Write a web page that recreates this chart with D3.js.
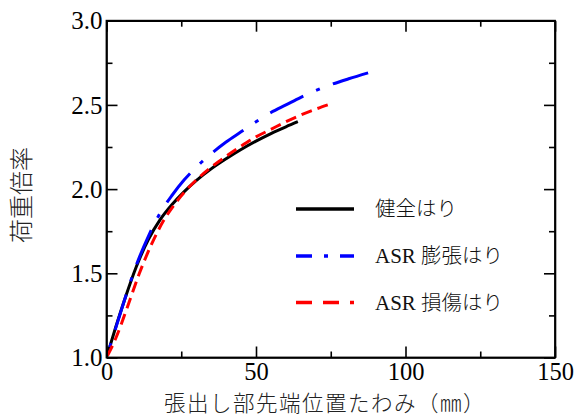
<!DOCTYPE html>
<html><head><meta charset="utf-8">
<script src="https://cdn.jsdelivr.net/npm/d3@7"></script>
<style>
html,body{margin:0;padding:0;background:#fff;}
svg{display:block;}
</style></head>
<body>
<script>
// ---- data ----
const xTicks = [0, 50, 100, 150];
const yTicks = [1.0, 1.5, 2.0, 2.5, 3.0];
const xMinor = [25, 75, 125];
const yMinor = [1.25, 1.75, 2.25, 2.75];

const seriesNames = ["健全はり", "ASR 膨張はり", "ASR 損傷はり"];

const healthyX = [0, 3, 6, 10, 14, 18, 22, 26, 30, 35, 40, 45, 50, 55, 60, 64];
const healthyY = [1.0, 1.175, 1.34, 1.54, 1.70, 1.82, 1.91, 1.985, 2.05, 2.12, 2.18, 2.235, 2.285, 2.33, 2.37, 2.40];

const expandX = [0, 3, 6, 10, 14, 18, 22, 26, 30, 35, 40, 45, 50, 55, 60, 65, 70, 75, 81, 87.5];
const expandY = [1.0, 1.17, 1.34, 1.55, 1.72, 1.86, 1.965, 2.055, 2.13, 2.21, 2.28, 2.34, 2.40, 2.455, 2.50, 2.545, 2.585, 2.62, 2.655, 2.69];

const damageX = [0, 3, 7, 11, 15, 19, 23, 27, 31, 35, 40, 45, 50, 55, 60, 65, 70, 74];
const damageY = [1.0, 1.11, 1.30, 1.50, 1.67, 1.81, 1.915, 2.00, 2.07, 2.13, 2.195, 2.255, 2.31, 2.355, 2.40, 2.44, 2.475, 2.50];

// ---- layout ----
const W = 578, H = 417;
const L = 106.5, R = 555, T = 20.7, B = 357.5;

const svg = d3.select("body").append("svg").attr("width", W).attr("height", H);

const x = d3.scaleLinear().domain([0, 150]).range([L, R]);
const y = d3.scaleLinear().domain([1.0, 3.0]).range([B, T]);

const serif = "'Liberation Serif','Times New Roman','Noto Sans CJK JP',serif";
const cjk = "'Noto Sans CJK JP','Liberation Serif',sans-serif";

svg.append("clipPath").attr("id", "clip").append("rect")
  .attr("x", L).attr("y", T).attr("width", R - L).attr("height", B - T);

const series = [
  {name: seriesNames[0], xs: healthyX, ys: healthyY, color: "#000000", dash: null, endOn: 0, legDash: null},
  {name: seriesNames[1], xs: expandX, ys: expandY, color: "#0000ff", dash: [37,14,4,14], endOn: 37, legDash: "16,12,4,12"},
  {name: seriesNames[2], xs: damageX, ys: damageY, color: "#ff0000", dash: [11,6], endOn: 11, legDash: "16,11"}
];

const line = d3.line().x(d => x(d[0])).y(d => y(d[1])).curve(d3.curveMonotoneX);

const g = svg.append("g").attr("clip-path", "url(#clip)");
series.forEach(s => {
  const pts = s.xs.map((v, i) => [v, s.ys[i]]);
  const p = g.append("path").datum(pts)
    .attr("d", line)
    .attr("fill", "none")
    .attr("stroke", s.color)
    .attr("stroke-width", 3)
    .attr("stroke-linecap", "butt");
  if (s.dash) {
    const cyc = d3.sum(s.dash);
    const len = p.node().getTotalLength();
    const off = (((s.endOn - len) % cyc) + cyc) % cyc;
    p.attr("stroke-dasharray", s.dash.join(",")).attr("stroke-dashoffset", off);
  }
});

// axes (ticks inward, mirrored)
const tickStyle = a => a.selectAll("path,line").attr("stroke", "#000").attr("stroke-width", 1.6);
function mkAxis(axisFn, scale, ticks, size, labels) {
  return axisFn(scale).tickValues(ticks).tickSizeInner(-size).tickSizeOuter(0)
    .tickFormat(labels ? d3.format(labels) : "");
}
const gb = svg.append("g").attr("transform", `translate(0,${B})`)
  .call(mkAxis(d3.axisBottom, x, xTicks, 11, "d"));
gb.call(tickStyle);
gb.selectAll("text").attr("font-family", serif).attr("font-size", 24.5).attr("fill", "#000")
  .attr("dy", null).attr("y", 22.5);
svg.append("g").attr("transform", `translate(0,${B})`)
  .call(mkAxis(d3.axisBottom, x, xMinor, 6, null)).call(tickStyle).select(".domain").remove();
svg.append("g").attr("transform", `translate(0,${T})`)
  .call(mkAxis(d3.axisTop, x, xTicks, 11, null)).call(tickStyle);
svg.append("g").attr("transform", `translate(0,${T})`)
  .call(mkAxis(d3.axisTop, x, xMinor, 6, null)).call(tickStyle).select(".domain").remove();
const gl = svg.append("g").attr("transform", `translate(${L},0)`)
  .call(mkAxis(d3.axisLeft, y, yTicks, 11, ".1f"));
gl.call(tickStyle);
gl.selectAll("text").attr("font-family", serif).attr("font-size", 25).attr("fill", "#000")
  .attr("x", -4).attr("dy", "0.33em");
svg.append("g").attr("transform", `translate(${L},0)`)
  .call(mkAxis(d3.axisLeft, y, yMinor, 6, null)).call(tickStyle).select(".domain").remove();
svg.append("g").attr("transform", `translate(${R},0)`)
  .call(mkAxis(d3.axisRight, y, yTicks, 11, null)).call(tickStyle);
svg.append("g").attr("transform", `translate(${R},0)`)
  .call(mkAxis(d3.axisRight, y, yMinor, 6, null)).call(tickStyle).select(".domain").remove();

svg.append("rect").attr("x", L).attr("y", T).attr("width", R - L).attr("height", B - T)
  .attr("fill", "none").attr("stroke", "#000").attr("stroke-width", 1.8);

// axis titles
svg.append("text").attr("x", 325).attr("y", 410.5).attr("text-anchor", "middle")
  .attr("font-family", cjk).attr("font-size", 21.5).attr("letter-spacing", 1.5)
  .attr("font-weight", 300).attr("fill", "#222")
  .text("張出し部先端位置たわみ（㎜）");
svg.append("text").attr("transform", "translate(30,195) rotate(-90)").attr("text-anchor", "middle")
  .attr("font-family", cjk).attr("font-size", 24).attr("font-weight", 300).attr("fill", "#222")
  .text("荷重倍率");

// legend
const legY = [209, 256, 302.5];
series.forEach((s, i) => {
  svg.append("line").attr("x1", 296).attr("x2", 354).attr("y1", legY[i]).attr("y2", legY[i])
    .attr("stroke", s.color).attr("stroke-width", 3.5).attr("stroke-dasharray", s.legDash);
  const t = svg.append("text").attr("x", 375).attr("y", legY[i]).attr("dy", "0.36em")
    .attr("font-size", 20.5).attr("fill", "#111");
  if (s.name.startsWith("ASR")) {
    t.append("tspan").attr("font-family", serif).attr("font-size", 21).text("ASR ");
    t.append("tspan").attr("font-family", cjk).attr("font-weight", 300).text(s.name.slice(4));
  } else {
    t.append("tspan").attr("font-family", cjk).attr("font-weight", 300).text(s.name);
  }
});
</script>
</body></html>
